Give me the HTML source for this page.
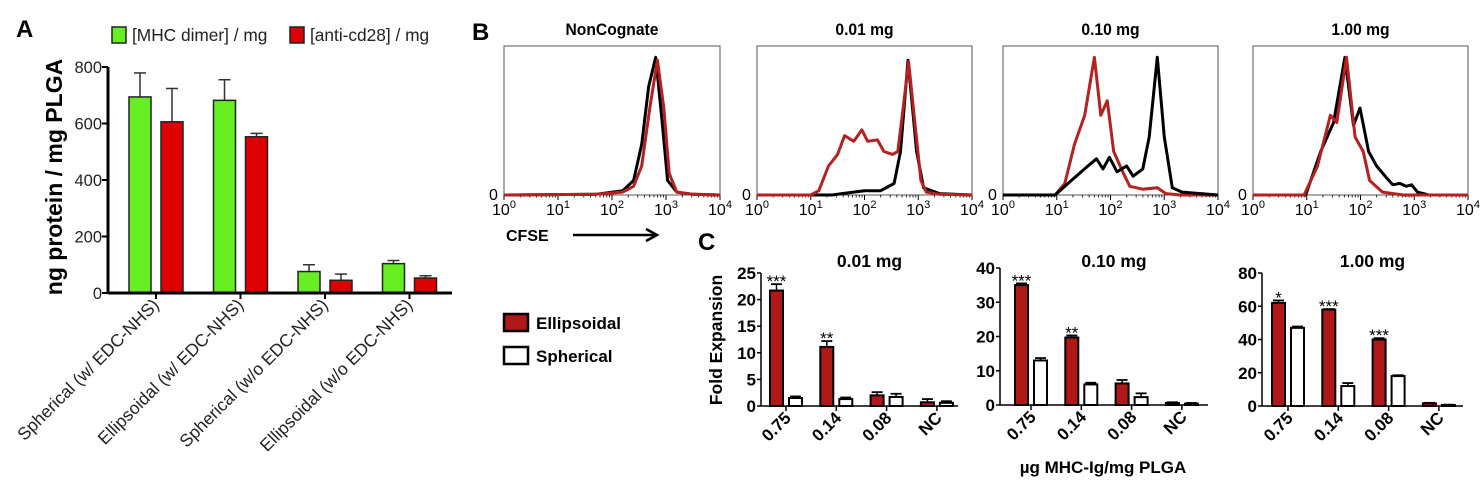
<!DOCTYPE html>
<html><head><meta charset="utf-8">
<style>
html,body{margin:0;padding:0;background:#fff;}
svg{display:block;font-family:"Liberation Sans",Arial,sans-serif;}
</style></head>
<body>
<svg id="fig" width="1481" height="480" viewBox="0 0 1481 480" xmlns="http://www.w3.org/2000/svg">
  <text x="16" y="37" font-size="24" font-weight="bold">A</text>
  <rect x="112" y="27" width="14" height="16" fill="#66ee22" stroke="#222" stroke-width="1.5"/>
  <text x="132" y="41" font-size="17.3" fill="#222">[MHC dimer] / mg</text>
  <rect x="290" y="27" width="14" height="16" fill="#dd0000" stroke="#222" stroke-width="1.5"/>
  <text x="310" y="41" font-size="17.3" fill="#222">[anti-cd28] / mg</text>
  <text transform="translate(62,177) rotate(-90)" text-anchor="middle" font-size="23" font-weight="bold">ng protein / mg PLGA</text>
  <g id="panelA"></g>

  <text x="472" y="40" font-size="24" font-weight="bold">B</text>
  <g id="panelB"></g>
  <text x="506" y="241" font-size="16" font-weight="bold">CFSE</text>
  <line x1="573" y1="235" x2="655" y2="235" stroke="#000" stroke-width="2.5"/>
  <path d="M646,229 L657,235 L646,241" fill="none" stroke="#000" stroke-width="2.5"/>

  <text x="698" y="250" font-size="24" font-weight="bold">C</text>
  <rect x="504" y="314" width="24" height="17" fill="#b01818" stroke="#000" stroke-width="2.5"/>
  <text x="536" y="329" font-size="17" font-weight="bold">Ellipsoidal</text>
  <rect x="504" y="347" width="24" height="17" fill="#fff" stroke="#000" stroke-width="2.5"/>
  <text x="536" y="362" font-size="17" font-weight="bold">Spherical</text>
  <text transform="translate(722,340) rotate(-90)" text-anchor="middle" font-size="17.5" font-weight="bold">Fold Expansion</text>
  <text x="1103" y="473" text-anchor="middle" font-size="17" font-weight="bold">µg MHC-Ig/mg PLGA</text>
  <g id="panelC"></g>
</svg>
<script>
const aCategories = ["Spherical (w/ EDC-NHS)","Ellipsoidal (w/ EDC-NHS)","Spherical (w/o EDC-NHS)","Ellipsoidal (w/o EDC-NHS)"];
const aMhc = [694, 682, 76, 104];
const aMhcErr = [85, 73, 24, 11];
const aCd28 = [606, 553, 45, 53];
const aCd28Err = [118, 12, 22, 8];
const aTicks = [0, 200, 400, 600, 800];

const bTitles = ["NonCognate","0.01 mg","0.10 mg","1.00 mg"];
const bRedX = [
 [0,1.7,2.2,2.4,2.55,2.7,2.84,2.96,3.06,3.2,3.5,4],
 [0,1.0,1.15,1.33,1.5,1.63,1.8,1.95,2.06,2.24,2.36,2.52,2.62,2.72,2.82,2.95,3.05,3.15,3.4,4],
 [0,0.97,1.15,1.33,1.52,1.7,1.82,1.94,2.06,2.24,2.36,2.6,2.87,3.03,3.3,4],
 [0,0.95,1.2,1.44,1.56,1.74,1.9,2.05,2.17,2.41,2.8,4]
];
const bRedY = [
 [0,0.005,0.02,0.06,0.2,0.6,0.93,0.6,0.15,0.02,0.005,0],
 [0,0,0.03,0.2,0.28,0.41,0.37,0.45,0.37,0.38,0.3,0.28,0.3,0.6,0.92,0.45,0.1,0.02,0.005,0],
 [0,0,0.08,0.35,0.55,0.95,0.55,0.65,0.3,0.15,0.06,0.04,0.05,0.01,0,0],
 [0,0,0.2,0.55,0.5,0.95,0.4,0.3,0.1,0.02,0,0]
];
const bBlackX = [
 [0,1.7,2.2,2.4,2.55,2.68,2.81,2.93,3.03,3.2,3.5,4],
 [0,1.4,1.58,2.0,2.3,2.55,2.67,2.81,2.97,3.1,3.4,4],
 [0,0.97,1.27,1.58,1.74,1.86,1.98,2.12,2.3,2.42,2.6,2.72,2.87,3.0,3.15,3.33,4],
 [0,0.98,1.26,1.5,1.71,1.87,1.99,2.15,2.3,2.48,2.6,2.73,2.85,2.95,3.06,3.27,4]
];
const bBlackY = [
 [0,0.005,0.03,0.1,0.35,0.75,0.95,0.5,0.1,0.02,0.005,0],
 [0,0,0.01,0.03,0.03,0.08,0.3,0.93,0.3,0.05,0.01,0],
 [0,0,0.1,0.2,0.25,0.18,0.26,0.16,0.2,0.13,0.18,0.4,0.95,0.4,0.05,0.02,0],
 [0,0,0.3,0.5,0.95,0.48,0.6,0.3,0.2,0.12,0.07,0.08,0.06,0.07,0.02,0,0]
];

const cTitles = ["0.01 mg","0.10 mg","1.00 mg"];
const cCategories = ["0.75","0.14","0.08","NC"];
const cMax = [25, 40, 80];
const cTicks = [[0,5,10,15,20,25],[0,10,20,30,40],[0,20,40,60,80]];
const cEllip = [[21.7,11.1,2.0,0.7],[35,19.7,6.3,0.6],[62,58,40,1.6]];
const cEllipErr = [[1.2,1.1,0.6,0.6],[0.5,0.6,1.0,0.2],[1.5,0.3,0.8,0.3]];
const cSpher = [[1.5,1.3,1.7,0.6],[13,6,2.3,0.4],[47,12,18,0.6]];
const cSpherErr = [[0.3,0.3,0.6,0.3],[0.7,0.5,1.1,0.2],[0.8,1.8,0.5,0.2]];
const cStars = [["***","**","",""],["***","**","",""],["*","***","***",""]];

const NS = "http://www.w3.org/2000/svg";
function mk(tag, attrs, parent, txt){
  const e = document.createElementNS(NS, tag);
  for (const k in attrs) e.setAttribute(k, attrs[k]);
  if (txt !== undefined) e.textContent = txt;
  parent.appendChild(e);
  return e;
}

(function(){
  const g = document.getElementById("panelA");
  const x0 = 108, x1 = 452, yb = 293, yt = 67, vmax = 800;
  const ya = v => yb - (v / vmax) * (yb - yt);
  const groupW = 84.5, firstCenter = 156, bw = 22;
  const gx = i => firstCenter + i * groupW;
  aTicks.forEach(t => {
    const l = mk("line", {x1:x0-6, x2:x0, y1:ya(t), y2:ya(t), stroke:"#000", "stroke-width":2}, g);
    
    
    const tx = mk("text", {x:x0-6, y:ya(t)+6, "text-anchor":"end", "font-size":16.5, fill:"#222"}, g, String(t));
    
    
  });
  aCategories.forEach((c, i) => {
    const cx = gx(i);
    [[aMhc, aMhcErr, "#66ee22", cx - 27, "bar-mhc"], [aCd28, aCd28Err, "#dd0000", cx + 5, "bar-cd28"]].forEach(s => {
      const v = s[0][i], e = s[1][i], bx = s[3];
      const el = mk("line", {x1:bx+bw/2, x2:bx+bw/2, y1:ya(v), y2:ya(v+e), stroke:"#333", "stroke-width":1.5}, g);
      
      
      const cap = mk("line", {x1:bx+bw/2-6, x2:bx+bw/2+6, y1:ya(v+e), y2:ya(v+e), stroke:"#333", "stroke-width":1.5}, g);
      
      
      const r = mk("rect", {x:bx, y:ya(v), width:bw, height:yb-ya(v), fill:s[2], stroke:"#222", "stroke-width":1.5}, g);
      
      
    });
    const tk = mk("line", {x1:cx, x2:cx, y1:yb, y2:yb+6, stroke:"#000", "stroke-width":2}, g);
    
    
    const lb = mk("text", {transform:`translate(${cx+4},${yb+13}) rotate(-45)`, "text-anchor":"end", "font-size":17.5, fill:"#222"}, g, c);
    
    
  });
  const ax = mk("line", {x1:x0, x2:x0, y1:yt, y2:yb+1, stroke:"#000", "stroke-width":3}, g);
  
  
  const axx = mk("line", {x1:x0, x2:x1, y1:yb, y2:yb, stroke:"#000", "stroke-width":3}, g);
  
  
})();

(function(){
  const g = document.getElementById("panelB");
  const boxes = [[504,720],[757,972],[1003,1218],[1253,1468]];
  const top = 46, base = 195;
  boxes.forEach((b, i) => {
    const L = b[0], R = b[1];
    const xs = v => L + (v / 4) * (R - L);
    const ys = v => base - v * (base - top - 4);
    const cxm = (L+R)/2;
    const t = mk("text", {x:cxm, y:35, "text-anchor":"middle", "font-size":17, "font-weight":"bold", transform:`translate(${cxm},0) scale(0.92,1) translate(${-cxm},0)`}, g, bTitles[i]);
    
    
    const box = mk("rect", {x:L, y:top, width:R-L, height:base-top, fill:"none", stroke:"#555", "stroke-width":1}, g);
    
    
    const z = mk("text", {x:L-15, y:base+5, "font-size":16}, g, "0");
    
    
    for (let d = 0; d <= 4; d++) {
      const tk = mk("line", {x1:xs(d), x2:xs(d), y1:base, y2:base+5, stroke:"#000", "stroke-width":1}, g);
      
      
      if (d < 4) for (let m = 2; m <= 9; m++) {
        const mx = xs(d + Math.log10(m));
        const mt = mk("line", {x1:mx, x2:mx, y1:base, y2:base+2.5, stroke:"#000", "stroke-width":0.8}, g);
        
        
      }
      const lt = mk("text", {x:xs(d), y:base+20, "text-anchor":"middle", "font-size":16}, g);
      
      
      mk("tspan", {}, lt, "10");
      mk("tspan", {dy:-7, "font-size":11}, lt, String(d));
    }
    const path = (X, Y) => X.map((v, k) => (k ? "L" : "M") + xs(v).toFixed(1) + "," + ys(Y[k]).toFixed(1)).join(" ");
    const order = i === 2 ? [["red",0],["black",1]] : [["black",1],["red",0]];
    order.forEach(o => {
      const isRed = o[0] === "red";
      const p = mk("path", {d: isRed ? path(bRedX[i], bRedY[i]) : path(bBlackX[i], bBlackY[i]), fill:"none", stroke: isRed ? "#b52020" : "#000", "stroke-width": 3, "stroke-linejoin":"round"}, g);
      
      
    });
  });
})();

(function(){
  const g = document.getElementById("panelC");
  const layouts = [
    {ax:761, top:273, base:406, first:770, end:958},
    {ax:1000, top:268, base:405, first:1015, end:1208},
    {ax:1262, top:273, base:406, first:1272, end:1463}
  ];
  const step = 50.3, bw = 13, gap = 5;
  layouts.forEach((L, p) => {
    const ys = v => L.base - (v / cMax[p]) * (L.base - L.top);
    const tt = mk("text", {x:L.ax + (L.end - L.ax)/2 + 10, y:267, "text-anchor":"middle", "font-size":17.5, "font-weight":"bold"}, g, cTitles[p]);
    
    
    cTicks[p].forEach(t => {
      const tk = mk("line", {x1:L.ax-4, x2:L.ax, y1:ys(t), y2:ys(t), stroke:"#000", "stroke-width":1.5}, g);
      
      
      const tl = mk("text", {x:L.ax-5, y:ys(t)+6, "text-anchor":"end", "font-size":17, "font-weight":"bold"}, g, String(t));
      
      
    });
    cCategories.forEach((c, i) => {
      const rx = L.first + i * step;
      const sx = rx + bw + gap + 1;
      [[cEllip, cEllipErr, rx, "#b01818", "bar-ellipsoidal"], [cSpher, cSpherErr, sx, "#fff", "bar-spherical"]].forEach(s => {
        const v = s[0][p][i], e = s[1][p][i], bx = s[2];
        const el = mk("line", {x1:bx+bw/2, x2:bx+bw/2, y1:ys(v), y2:ys(v+e), stroke:"#000", "stroke-width":1.5}, g);
        
        
        const cap = mk("line", {x1:bx+1, x2:bx+bw-1, y1:ys(v+e), y2:ys(v+e), stroke:"#000", "stroke-width":1.8}, g);
        
        
        const r = mk("rect", {x:bx, y:ys(v), width:bw, height:Math.max(0, L.base-ys(v)), fill:s[3], stroke:"#000", "stroke-width":2}, g);
        
        
      });
      if (cStars[p][i]) {
        const v = cEllip[p][i] + cEllipErr[p][i];
        const st = mk("text", {x:rx+bw/2, y:ys(v)+3, "text-anchor":"middle", "font-size":17}, g, cStars[p][i]);
        
        
      }
      const cx = rx + bw + gap/2 + 0.5;
      const tk = mk("line", {x1:cx, x2:cx, y1:L.base, y2:L.base+5, stroke:"#000", "stroke-width":1.5}, g);
      
      
      const lb = mk("text", {transform:`translate(${cx+6},${L.base+13}) rotate(-45)`, "text-anchor":"end", "font-size":17, "font-weight":"bold"}, g, c);
      
      
    });
    const ay = mk("line", {x1:L.ax, x2:L.ax, y1:L.top, y2:L.base, stroke:"#000", "stroke-width":1.5}, g);
    
    
    const axl = mk("line", {x1:L.ax, x2:L.end, y1:L.base, y2:L.base, stroke:"#000", "stroke-width":1.5}, g);
    
    
  });
})();
</script>
</body></html>
